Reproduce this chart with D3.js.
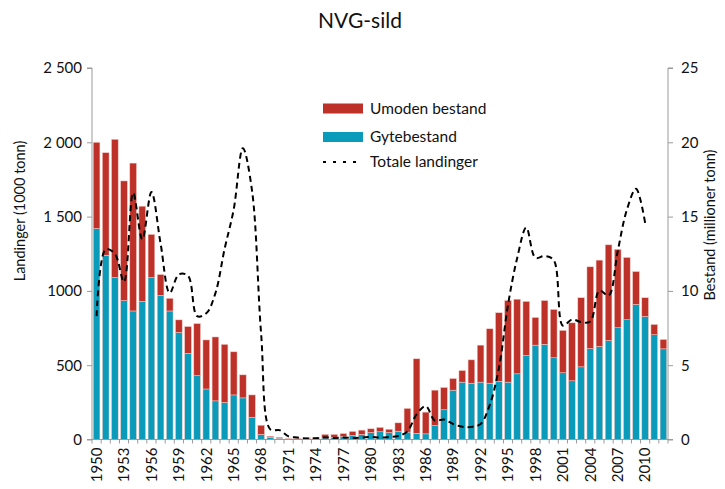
<!DOCTYPE html>
<html>
<head>
<meta charset="utf-8">
<script src="https://cdn.jsdelivr.net/npm/d3@7"></script>
<style>
  html, body { margin: 0; padding: 0; background: #fff; }
  svg { display: block; font-family: Lato, "Open Sans", sans-serif; }
</style>
</head>
<body>
<svg id="chart" width="725" height="489"></svg>
<script>
// ---- data ----
const years = d3.range(1950, 2013);
// Gytebestand (million tonn)
const gytebestand = [14.2,12.4,10.9,9.35,8.65,9.3,10.9,9.7,8.65,7.2,
  5.8,4.3,3.4,2.6,2.5,3.0,2.8,1.5,0.34,0.15,
  0.09,0.04,0.04,0.06,0.07,0.1,0.15,0.2,0.27,0.34,
  0.47,0.52,0.47,0.56,0.5,0.42,0.38,0.94,2.0,3.32,
  3.86,3.79,3.86,3.79,3.92,3.86,4.42,5.65,6.35,6.41,
  5.5,4.49,3.95,4.89,6.12,6.26,6.66,7.52,8.06,9.09,
  8.28,7.05,6.1];
// Umoden bestand (million tonn)
const umoden = [5.8,6.9,9.3,8.05,9.95,6.4,2.9,1.4,0.85,0.85,
  1.8,3.5,3.3,4.3,3.9,2.9,1.55,1.5,0.62,0.07,
  0.06,0.04,0.05,0.07,0.08,0.24,0.19,0.2,0.27,0.29,
  0.25,0.29,0.22,0.56,1.59,5.01,1.46,2.38,1.5,0.78,
  0.78,1.57,2.49,3.66,4.61,5.49,5.02,3.64,1.86,2.94,
  3.25,2.85,3.9,4.65,5.5,5.81,6.44,5.28,4.19,2.21,
  1.26,0.69,0.63];
// Totale landinger (1000 tonn), 1950-2010
const landinger = [830,1280,1250,1060,1660,1347,1665,1320,986,1111,
  1102,830,849,985,1282,1548,1960,1677,710,68,
  63,21,13,7,8,14,10,13,10,13,
  18,13,17,23,55,169,225,127,135,104,
  86,85,104,232,479,906,1220,1426,1223,1235,
  1207,766,808,790,794,1003,968,1267,1546,1687,
  1457];
const leftTicks = [0,500,1000,1500,2000,2500];
const leftTickLabels = ["0","500","1000","1 500","2 000","2 500"];
const rightTicks = [0,5,10,15,20,25];
const xLabelYears = years.filter(y => (y - 1950) % 3 === 0);

const RED = "#be3129", BLUE = "#0a9bbb", AXIS = "#9a9a9a";

// ---- layout ----
const svg = d3.select("#chart");
const L = 92, R = 668, T = 68, B = 439.5;

const x = d3.scaleBand().domain(years).range([L, R]).paddingInner(0.27).paddingOuter(0.135);
const yL = d3.scaleLinear().domain([0, 2500]).range([B, T]);
const yR = d3.scaleLinear().domain([0, 25]).range([B, T]);

// bars (stacked)
const stackData = years.map((yr, i) => ({year: yr, gyte: gytebestand[i], umoden: umoden[i]}));
const series = d3.stack().keys(["gyte", "umoden"])(stackData);
const colors = {gyte: BLUE, umoden: RED};
svg.append("g").selectAll("g").data(series).join("g")
  .attr("fill", d => colors[d.key])
  .selectAll("rect").data(d => d).join("rect")
  .attr("x", d => x(d.data.year))
  .attr("width", x.bandwidth())
  .attr("y", d => yR(d[1]))
  .attr("height", d => Math.max(0, yR(d[0]) - yR(d[1])))
  .attr("stroke", "#f3c9c6")
  .attr("stroke-width", 0.5);

// line
const lineData = landinger.map((v, i) => ({year: years[i], v}));
const line = d3.line()
  .x(d => x(d.year) + x.bandwidth() / 2)
  .y(d => yL(d.v))
  .curve(d3.curveCatmullRom.alpha(0.5));
svg.append("path").datum(lineData)
  .attr("d", line)
  .attr("fill", "none")
  .attr("stroke", "#000")
  .attr("stroke-width", 2)
  .attr("stroke-dasharray", "6,4");

// left axis
const gL = svg.append("g").attr("transform", `translate(${L},0)`)
  .call(d3.axisLeft(yL).tickValues(leftTicks).tickSize(5).tickPadding(5)
    .tickFormat((d, i) => leftTickLabels[i]));
gL.select(".domain").attr("stroke", AXIS).attr("d", `M-5,${T}H0V${B}H-5`);
gL.selectAll(".tick line").attr("stroke", AXIS);
gL.selectAll(".tick text").attr("font-size", 15).attr("fill", "#111").attr("font-family", "Lato, sans-serif");

// right axis
const gR = svg.append("g").attr("transform", `translate(${R},0)`)
  .call(d3.axisRight(yR).tickValues(rightTicks).tickSize(5).tickPadding(8));
gR.select(".domain").attr("stroke", AXIS).attr("d", `M5,${T}H0V${B}H5`);
gR.selectAll(".tick line").attr("stroke", AXIS);
gR.selectAll(".tick text").attr("font-size", 15).attr("fill", "#111").attr("font-family", "Lato, sans-serif");

// x axis
const gX = svg.append("g");
gX.append("line").attr("x1", L).attr("x2", R).attr("y1", B).attr("y2", B).attr("stroke", AXIS);
const boundaries = d3.range(years.length + 1).map(k => L + k * x.step());
gX.selectAll("line.tk").data(boundaries).join("line").attr("class", "tk")
  .attr("x1", d => d).attr("x2", d => d).attr("y1", B).attr("y2", B + 4)
  .attr("stroke", AXIS);
gX.selectAll("text").data(xLabelYears).join("text")
  .attr("transform", d => `translate(${x(d) + x.bandwidth() / 2},${B + 8}) rotate(-90)`)
  .attr("text-anchor", "end")
  .attr("dy", "0.35em")
  .attr("font-size", 15)
  .attr("fill", "#111")
  .text(d => d);

// titles
svg.append("text").attr("x", 360).attr("y", 28).attr("text-anchor", "middle")
  .attr("font-size", 21).attr("fill", "#111").text("NVG-sild");
svg.append("text").attr("transform", "translate(20,211) rotate(-90)")
  .attr("text-anchor", "middle").attr("dy", "0.35em")
  .attr("font-size", 14.5).attr("fill", "#111").text("Landinger (1000 tonn)");
svg.append("text").attr("transform", "translate(710,225) rotate(-90)")
  .attr("text-anchor", "middle").attr("dy", "0.35em")
  .attr("font-size", 14.5).attr("fill", "#111").text("Bestand (millioner tonn)");

// legend
const legend = [
  {label: "Umoden bestand", type: "rect", color: RED, y: 108.5},
  {label: "Gytebestand", type: "rect", color: BLUE, y: 137},
  {label: "Totale landinger", type: "line", color: "#000", y: 162}
];
const lg = svg.append("g");
legend.forEach(d => {
  if (d.type === "rect") {
    lg.append("rect").attr("x", 323).attr("y", d.y - 5).attr("width", 40).attr("height", 10).attr("fill", d.color);
  } else {
    lg.append("line").attr("x1", 323).attr("x2", 363).attr("y1", d.y).attr("y2", d.y)
      .attr("stroke", d.color).attr("stroke-width", 2).attr("stroke-dasharray", "3,7");
  }
  lg.append("text").attr("x", 370).attr("y", d.y).attr("dy", "0.35em")
    .attr("font-size", 15.5).attr("fill", "#111").text(d.label);
});
</script>
</body>
</html>
